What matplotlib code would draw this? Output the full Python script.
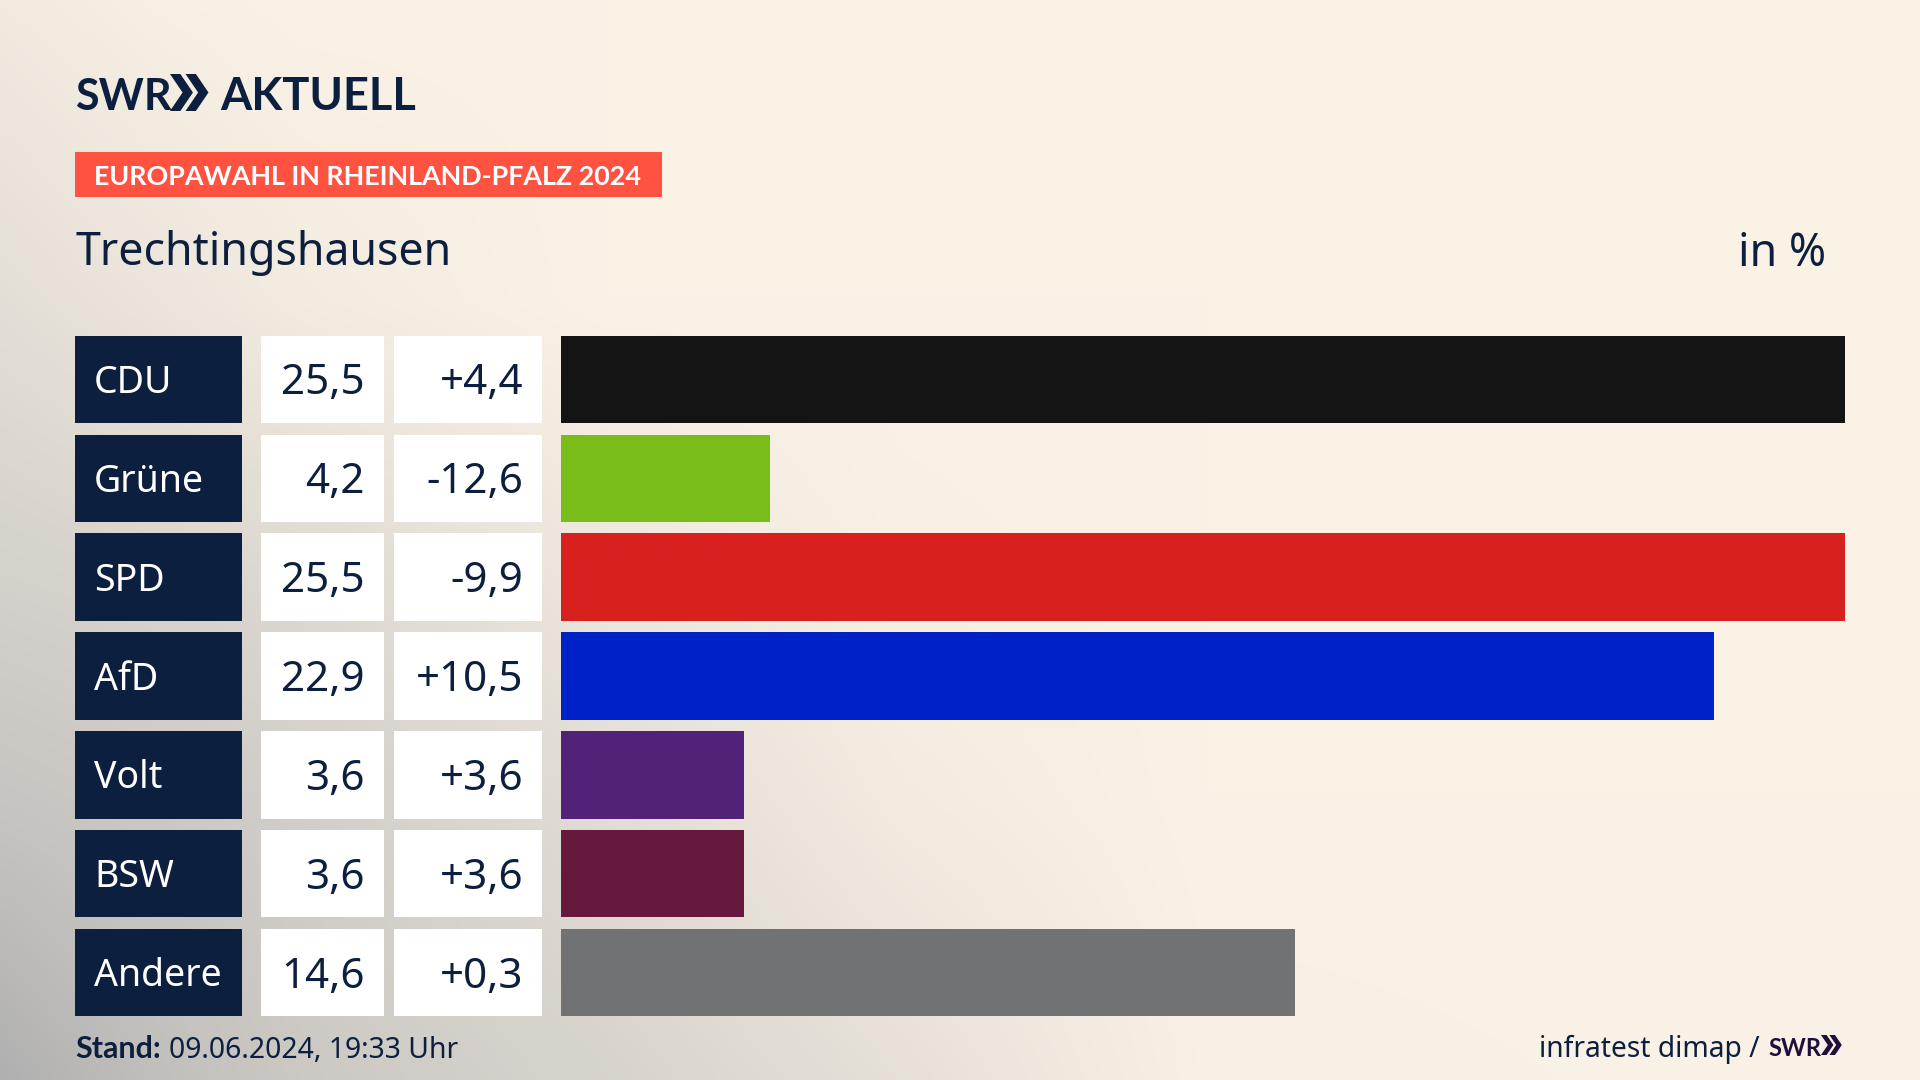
import numpy as np
import matplotlib
matplotlib.use("Agg")
import matplotlib.pyplot as plt
from matplotlib.patches import Polygon, Rectangle

parties = ["CDU", "Grüne", "SPD", "AfD", "Volt", "BSW", "Andere"]
shares = [25.5, 4.16, 25.5, 22.9, 3.63, 3.63, 14.57]
share_labels = ["25,5", "4,2", "25,5", "22,9", "3,6", "3,6", "14,6"]
change_labels = ["+4,4", "-12,6", "-9,9", "+10,5", "+3,6", "+3,6", "+0,3"]
colors = ["#141414", "#7ABD1A", "#D8201F", "#0021C8", "#512277", "#66183D", "#707273"]

NAVY = "#0C1F3E"
FONT = "Noto Sans"
BOLD = "Lato"
plt.rcParams["font.family"] = [FONT, "DejaVu Sans"]
W, H = 1920, 1080
fig = plt.figure(figsize=(19.2, 10.8), dpi=100)

# background wash: strength of the grey on a coarse grid
bg = fig.add_axes([0, 0, 1, 1], zorder=0)
gx = np.array([0, 150, 300, 600, 900, 1200, 1920.0])
gy = np.array([0, 300, 600, 800, 1080.0])
gt = np.array([[.12, .04, 0, 0, 0, 0, 0],
               [.30, .20, .10, 0, 0, 0, 0],
               [.52, .48, .40, .18, .03, 0, 0],
               [.68, .62, .55, .33, .10, 0, 0],
               [1.0, .78, .62, .47, .27, .03, 0]])
xs = np.linspace(0, W, 480)
ys = np.linspace(0, H, 270)
rows = np.array([np.interp(xs, gx, r) for r in gt])
t = np.array([np.interp(ys, gy, c) for c in rows.T]).T
cream = np.array([250, 242, 230]) / 255
grey = np.array([176, 176, 176]) / 255
img = cream[None, None, :] * (1 - t[..., None]) + grey[None, None, :] * t[..., None]
bg.imshow(img, extent=(0, W, H, 0), aspect="auto", interpolation="bicubic")
bg.set_xlim(0, W); bg.set_ylim(H, 0); bg.axis("off")

# rows share one vertical scale
top_px, bot_px = 330.0, 1022.0
y_pos = list(range(len(parties)))
pos_y = 1 - bot_px / H
pos_h = (bot_px - top_px) / H
bar_h = 0.885

table = fig.add_axes([0, pos_y, 1, pos_h], zorder=1)
table.set_xlim(0, W); table.set_ylim(6.5, -0.5); table.axis("off")
table.barh(y_pos, [167] * 7, left=75, height=bar_h, color=NAVY)
table.barh(y_pos, [123] * 7, left=261, height=bar_h, color="white")
table.barh(y_pos, [148] * 7, left=394, height=bar_h, color="white")
for y, p, s, c in zip(y_pos, parties, share_labels, change_labels):
    table.text(94, y - 0.01, p, color="white", fontsize=27, va="center_baseline", ha="left")
    table.text(365, y - 0.01, s, color=NAVY, fontsize=30.3, va="center_baseline", ha="right")
    table.text(523, y - 0.01, c, color=NAVY, fontsize=30.3, va="center_baseline", ha="right")

ax = fig.add_axes([561 / W, pos_y, (1845 - 561) / W, pos_h], zorder=2)
ax.barh(y_pos, shares, height=bar_h, color=colors)
ax.set_xlim(0, 25.5); ax.set_ylim(6.5, -0.5); ax.axis("off")

# header and footer, pixel space
ov = fig.add_axes([0, 0, 1, 1], zorder=3)
ov.set_xlim(0, W); ov.set_ylim(H, 0); ov.axis("off")

def chevrons(x, y, h, color, gap=0.42, w=0.34, t=0.28):
    for i in range(2):
        x0 = x + i * gap * h
        ov.add_patch(Polygon([(x0, y), (x0 + t * h, y), (x0 + t * h + w * h, y + h / 2),
                              (x0 + t * h, y + h), (x0, y + h), (x0 + w * h, y + h / 2)],
                             closed=True, color=color, lw=0))

ov.text(75, 110, "SWR", fontsize=31, fontweight="bold", color=NAVY, va="baseline", ha="left",
        family=[BOLD, "DejaVu Sans"])
chevrons(170, 74, 37, NAVY)
ov.text(220, 110, "AKTUELL", fontsize=32.5, fontweight="bold", color=NAVY, va="baseline", ha="left",
        family=[BOLD, "DejaVu Sans"])

ov.add_patch(Rectangle((75, 152), 587, 45, color="#FF5240", lw=0))
ov.text(94, 175, "EUROPAWAHL IN RHEINLAND-PFALZ 2024", fontsize=19.4, fontweight="bold", color="white",
        va="center_baseline", family=[BOLD, "DejaVu Sans"])
ov.text(75, 248, "Trechtingshausen", fontsize=32.2, color=NAVY, va="center_baseline")
ov.text(1826, 248, "in %", fontsize=32.2, color=NAVY, va="center_baseline", ha="right")

ov.text(75, 1047, "Stand:", fontsize=22, fontweight="bold", color=NAVY, va="center_baseline",
        family=[BOLD, "DejaVu Sans"])
ov.text(169, 1047, "09.06.2024, 19:33 Uhr", fontsize=20.4, color=NAVY, va="center_baseline")
ov.text(1760, 1046, "infratest dimap /", fontsize=20.3, color=NAVY, va="center_baseline", ha="right")
ov.text(1768, 1046, "SWR", fontsize=17, fontweight="bold", color="#1F0F3C", va="center_baseline", ha="left",
        family=[BOLD, "DejaVu Sans"])
chevrons(1821, 1035, 20, "#1F0F3C")

fig.savefig("out.png", dpi=100)
